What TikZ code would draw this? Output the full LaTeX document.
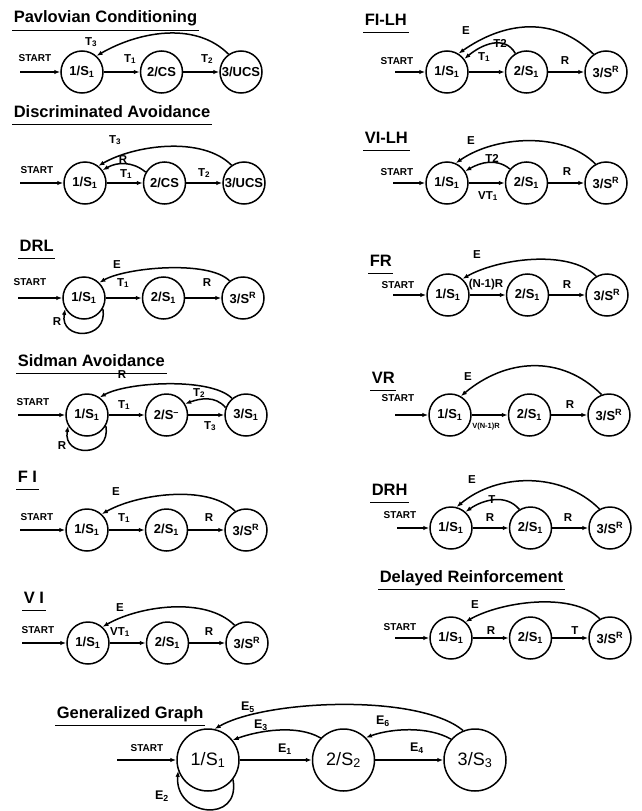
\documentclass[tikz,border=0pt]{standalone}
\usepackage{fontspec}
\setmainfont{Liberation Sans}
\usetikzlibrary{positioning, arrows.meta}

\begin{document}
\begin{tikzpicture}[x=1pt, y=1pt, line width=1.5pt, node distance=36pt,
    state/.style={draw, circle, minimum size=42pt, inner sep=0pt, font=\fontsize{13}{15}\selectfont\bfseries},
    bigstate/.style={state, minimum size=62pt, font=\fontsize{18}{20}\selectfont},
    lbl/.style={inner sep=0pt, font=\fontsize{11.5}{13}\selectfont\bfseries},
    biglbl/.style={lbl, font=\fontsize{12.5}{14}\selectfont\bfseries},
    startlbl/.style={inner sep=0pt, font=\fontsize{10}{12}\selectfont\bfseries},
    ttl/.style={anchor=base west, inner xsep=1pt, inner ysep=2.5pt, text depth=4pt,
        font=\fontsize{16.5}{19}\selectfont\bfseries,
        append after command={(\tikzlastnode.south west) edge[line width=1.5pt] (\tikzlastnode.south east)}},
    arr/.style={-{Latex[length=6pt, width=4.5pt]}}]
    \useasboundingbox (0,0) rectangle (641,-811);

    % Pavlovian Conditioning
    \node[ttl] (pct) at (12,-23) {Pavlovian Conditioning};
    \node[state] (pc1) at (82,-72) {1/S\textsubscript{1}};
    \node[state, right=of pc1] (pc2) {2/CS};
    \node[state, right=of pc2] (pc3) {\makebox[0pt]{3/UCS}};
    \coordinate (pc0) at (20,-72);
    \node[startlbl] (pcs) at (35,-58) {START};
    \draw[arr] (pc0) -- (pc1);
    \draw[arr] (pc1) -- (pc2);
    \draw[arr] (pc2) -- (pc3);
    \draw[arr] (pc3.125) to[out=135, in=30, looseness=0.92] (pc1.48);
    \node[lbl] (pcl3) at (91,-42) {T\textsubscript{3}};
    \node[lbl] (pcl1) at (130,-59) {T\textsubscript{1}};
    \node[lbl] (pcl2) at (207,-59) {T\textsubscript{2}};

    % Discriminated Avoidance
    \node[ttl] (dat) at (12,-117) {Discriminated Avoidance};
    \node[state] (da1) at (85,-183) {1/S\textsubscript{1}};
    \node[state, right=of da1] (da2) {2/CS};
    \node[state, right=of da2] (da3) {\makebox[0pt]{3/UCS}};
    \coordinate (da0) at (20,-183);
    \node[startlbl] (das) at (37,-170) {START};
    \draw[arr] (da0) -- (da1);
    \draw[arr] (da1) -- (da2);
    \draw[arr] (da2) -- (da3);
    \draw[arr] (da3.125) to[out=135, in=30, looseness=0.8] (da1.52);
    \draw[arr] (da2.150) to[out=140, in=30] (da1.36);
    \node[lbl] (dal3) at (115,-140) {T\textsubscript{3}};
    \node[lbl] (dalr) at (123,-160) {R};
    \node[lbl] (dal1) at (126,-174) {T\textsubscript{1}};
    \node[lbl] (dal2) at (204,-173) {T\textsubscript{2}};

    % DRL
    \node[ttl] (dlt) at (18,-251) {DRL};
    \node[state] (dl1) at (84,-298) {1/S\textsubscript{1}};
    \node[state, right=of dl1] (dl2) {2/S\textsubscript{1}};
    \node[state, right=of dl2] (dl3) {3/S\textsuperscript{R}};
    \coordinate (dl0) at (18,-298);
    \node[startlbl] (dls) at (30,-282) {START};
    \draw[arr] (dl0) -- (dl1);
    \draw[arr] (dl1) -- (dl2);
    \draw[arr] (dl2) -- (dl3);
    \draw[arr] (dl3.128) to[out=135, in=30, looseness=0.59] (dl1.45);
    \draw[arr] (dl1.-30) to[out=-80, in=-100, looseness=2.2] (dl1.-150);
    \node[lbl] (dle) at (117,-265) {E};
    \node[lbl] (dl11) at (123,-283) {T\textsubscript{1}};
    \node[lbl] (dlr) at (207,-283) {R};
    \node[lbl] (dlrr) at (57,-322) {R};

    % Sidman Avoidance
    \node[ttl] (sat) at (16,-366) {Sidman Avoidance};
    \node[state] (sa1) at (87,-415) {1/S\textsubscript{1}};
    \node[state, right=of sa1] (sa2) {2/S\textsuperscript{--}};
    \node[state, right=of sa2] (sa3) {3/S\textsubscript{1}};
    \coordinate (sa0) at (18,-415);
    \node[startlbl] (sas) at (33,-402) {START};
    \draw[arr] (sa0) -- (sa1);
    \draw[arr] (sa1) -- (sa2);
    \draw[arr] (sa2) -- (sa3);
    \draw[arr] (sa3.130) to[out=135, in=30, looseness=0.59] (sa1.54);
    \draw[arr] (sa3.160) to[out=130, in=20] (sa2.31);
    \draw[arr] (sa1.-30) to[out=-80, in=-100, looseness=2.2] (sa1.-150);
    \node[lbl] (salr) at (122,-375) {R};
    \node[lbl] (sal2) at (199,-393) {T\textsubscript{2}};
    \node[lbl] (sal1) at (124,-405) {T\textsubscript{1}};
    \node[lbl] (sal3) at (210,-426) {T\textsubscript{3}};
    \node[lbl] (salrr) at (62,-446) {R};

    % FI
    \node[ttl] (fit) at (16,-482) {F I};
    \node[state] (fi1) at (87,-530) {1/S\textsubscript{1}};
    \node[state, right=of fi1] (fi2) {2/S\textsubscript{1}};
    \node[state, right=of fi2] (fi3) {3/S\textsuperscript{R}};
    \coordinate (fi0) at (20,-530);
    \node[startlbl] (fis) at (37,-517) {START};
    \draw[arr] (fi0) -- (fi1);
    \draw[arr] (fi1) -- (fi2);
    \draw[arr] (fi2) -- (fi3);
    \draw[arr] (fi3.120) to[out=135, in=30, looseness=0.75] (fi1.47);
    \node[lbl] (file) at (116,-492) {E};
    \node[lbl] (fil1) at (124,-518) {T\textsubscript{1}};
    \node[lbl] (filr) at (209,-518) {R};

    % VI
    \node[ttl] (vit) at (22,-603) {V I};
    \node[state] (vi1) at (88,-643) {1/S\textsubscript{1}};
    \node[state, right=of vi1] (vi2) {2/S\textsubscript{1}};
    \node[state, right=of vi2] (vi3) {3/S\textsuperscript{R}};
    \coordinate (vi0) at (22,-643);
    \node[startlbl] (vis) at (38,-630) {START};
    \draw[arr] (vi0) -- (vi1);
    \draw[arr] (vi1) -- (vi2);
    \draw[arr] (vi2) -- (vi3);
    \draw[arr] (vi3.125) to[out=135, in=30, looseness=0.8] (vi1.48);
    \node[lbl] (vile) at (120,-608) {E};
    \node[lbl] (vil1) at (120,-632) {VT\textsubscript{1}};
    \node[lbl] (vilr) at (209,-632) {R};

    % FI-LH
    \node[ttl] (flt) at (363,-25) {FI-LH};
    \node[state] (fl1) at (447,-72) {1/S\textsubscript{1}};
    \node[state, right=of fl1] (fl2) {2/S\textsubscript{1}};
    \node[state, right=of fl2] (fl3) {3/S\textsuperscript{R}};
    \coordinate (fl0) at (395,-72);
    \node[startlbl] (fls) at (397,-61) {START};
    \draw[arr] (fl0) -- (fl1);
    \draw[arr] (fl1) -- (fl2);
    \draw[arr] (fl2) -- (fl3);
    \draw[arr] (fl3.125) to[out=135, in=35, looseness=1.05] (fl1.58);
    \draw[arr] (fl2.121) to[out=120, in=40, looseness=1.1] (fl1.37);
    \node[lbl] (fle) at (466,-31) {E};
    \node[lbl] (fl2l) at (500,-43) {T2};
    \node[lbl] (fl1l) at (484,-57) {T\textsubscript{1}};
    \node[lbl] (flr) at (565,-61) {R};

    % VI-LH
    \node[ttl] (vlt) at (363,-143) {VI-LH};
    \node[state] (vl1) at (447,-183) {1/S\textsubscript{1}};
    \node[state, right=of vl1] (vl2) {2/S\textsubscript{1}};
    \node[state, right=of vl2] (vl3) {3/S\textsuperscript{R}};
    \coordinate (vl0) at (393,-183);
    \node[startlbl] (vls) at (397,-172) {START};
    \draw[arr] (vl0) -- (vl1);
    \draw[arr] (vl1) -- (vl2);
    \draw[arr] (vl2) -- (vl3);
    \draw[arr] (vl3.119) to[out=135, in=35, looseness=0.86] (vl1.66);
    \draw[arr] (vl2.140) to[out=140, in=30] (vl1.33);
    \node[lbl] (vle) at (471,-141) {E};
    \node[lbl] (vl2l) at (492,-158) {T2};
    \node[lbl] (vl1l) at (488,-196) {VT\textsubscript{1}};
    \node[lbl] (vlr) at (567,-172) {R};

    % FR
    \node[ttl] (frt) at (368,-266) {FR};
    \node[state] (fr1) at (448,-295) {1/S\textsubscript{1}};
    \node[state, right=of fr1] (fr2) {2/S\textsubscript{1}};
    \node[state, right=of fr2] (fr3) {3/S\textsuperscript{R}};
    \coordinate (fr0) at (393,-295);
    \node[startlbl] (frs) at (398,-285) {START};
    \draw[arr] (fr0) -- (fr1);
    \draw[arr] (fr1) -- (fr2);
    \draw[arr] (fr2) -- (fr3);
    \draw[arr] (fr3.120) to[out=135, in=30, looseness=0.75] (fr1.48);
    \node[lbl] (fre) at (477,-255) {E};
    \node[lbl] (frn) at (486,-285) {(N-1)R};
    \node[lbl] (frr) at (567,-285) {R};

    % VR
    \node[ttl] (vrt) at (370,-383) {VR};
    \node[state] (vr1) at (450,-415) {1/S\textsubscript{1}};
    \node[state, right=of vr1] (vr2) {2/S\textsubscript{1}};
    \node[state, right=of vr2] (vr3) {3/S\textsuperscript{R}};
    \coordinate (vr0) at (395,-415);
    \node[startlbl] (vrs) at (398,-398) {START};
    \draw[arr] (vr0) -- (vr1);
    \draw[arr] (vr1) -- (vr2);
    \draw[arr] (vr2) -- (vr3);
    \draw[arr] (vr3.110) to[out=135, in=40, looseness=1.05] (vr1.60);
    \node[lbl] (vre) at (468,-377) {E};
    \node[lbl, font=\fontsize{7.5}{9}\selectfont\bfseries] (vrn) at (486,-427) {V(N-1)R};
    \node[lbl] (vrr) at (570,-405) {R};

    % DRH
    \node[ttl] (dht) at (370,-495) {DRH};
    \node[state] (dh1) at (451,-528) {1/S\textsubscript{1}};
    \node[state, right=of dh1] (dh2) {2/S\textsubscript{1}};
    \node[state, right=of dh2] (dh3) {3/S\textsuperscript{R}};
    \coordinate (dh0) at (397,-528);
    \node[startlbl] (dhs) at (400,-515) {START};
    \draw[arr] (dh0) -- (dh1);
    \draw[arr] (dh1) -- (dh2);
    \draw[arr] (dh2) -- (dh3);
    \draw[arr] (dh3.119) to[out=135, in=40, looseness=0.95] (dh1.75);
    \draw[arr] (dh2.121) to[out=130, in=35] (dh1.48);
    \node[lbl] (dhe) at (472,-480) {E};
    \node[lbl] (dhtl) at (492,-500) {T};
    \node[lbl] (dhr1) at (490,-518) {R};
    \node[lbl] (dhr2) at (568,-518) {R};

    % Delayed Reinforcement
    \node[ttl] (drt) at (378,-582) {Delayed Reinforcement};
    \node[state] (dr1) at (451,-638) {1/S\textsubscript{1}};
    \node[state, right=of dr1] (dr2) {2/S\textsubscript{1}};
    \node[state, right=of dr2] (dr3) {3/S\textsuperscript{R}};
    \coordinate (dr0) at (395,-638);
    \node[startlbl] (drs) at (400,-627) {START};
    \draw[arr] (dr0) -- (dr1);
    \draw[arr] (dr1) -- (dr2);
    \draw[arr] (dr2) -- (dr3);
    \draw[arr] (dr3.118) to[out=135, in=30, looseness=0.75] (dr1.48);
    \node[lbl] (dre) at (475,-605) {E};
    \node[lbl] (drr) at (491,-631) {R};
    \node[lbl] (drtl) at (575,-631) {T};

    % Generalized Graph
    \node[ttl] (ggt) at (55,-718) {Generalized Graph};
    \node[bigstate] (gg1) at (208,-760) {1/S\textsubscript{1}};
    \node[bigstate, right=72pt of gg1] (gg2) {2/S\textsubscript{2}};
    \node[bigstate, right=68pt of gg2] (gg3) {3/S\textsubscript{3}};
    \coordinate (gg0) at (117,-760);
    \node[startlbl] (ggs) at (147,-748) {START};
    \draw[arr] (gg0) -- (gg1);
    \draw[arr] (gg1) -- (gg2);
    \draw[arr] (gg2) -- (gg3);
    \draw[arr] (gg3.112) to[out=140, in=30, looseness=0.6] (gg1.78);
    \draw[arr] (gg2.136) to[out=150, in=20, looseness=0.8] (gg1.39);
    \draw[arr] (gg3.139) to[out=150, in=20, looseness=0.8] (gg2.45);
    \draw[arr] (gg1.-38) to[out=-80, in=-95, looseness=2.1] (gg1.-160);
    \node[biglbl] (gge5) at (248,-707) {E\textsubscript{5}};
    \node[biglbl] (gge3) at (261,-725) {E\textsubscript{3}};
    \node[biglbl] (gge1) at (285,-749) {E\textsubscript{1}};
    \node[biglbl] (gge6) at (383,-721) {E\textsubscript{6}};
    \node[biglbl] (gge4) at (417,-748) {E\textsubscript{4}};
    \node[biglbl] (gge2) at (162,-796) {E\textsubscript{2}};
\end{tikzpicture}
\end{document}
